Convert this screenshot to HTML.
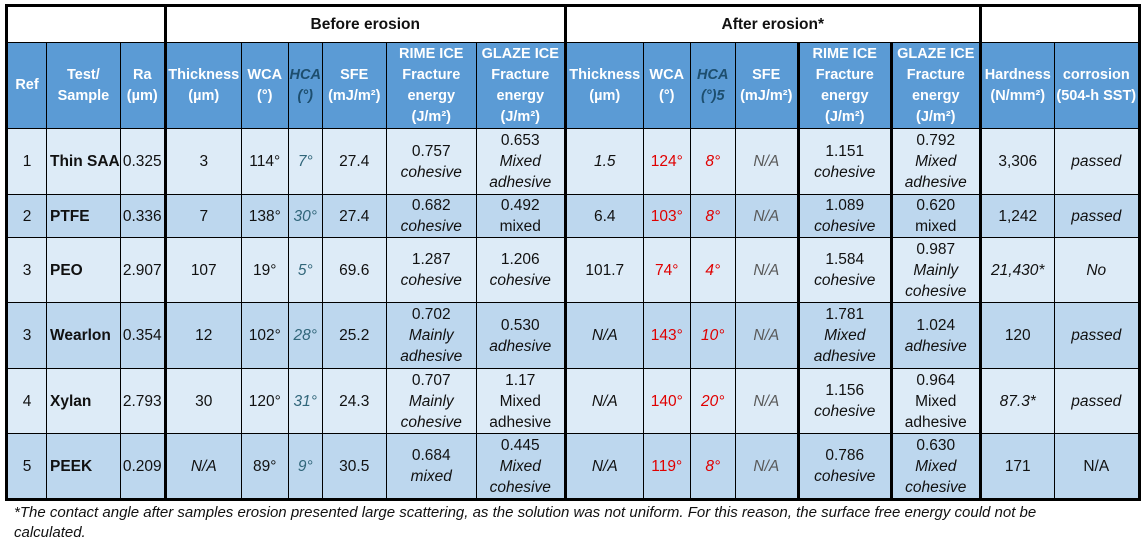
<!DOCTYPE html>
<html><head><meta charset="utf-8"><style>
body{margin:0;background:#fff;width:1145px;height:542px;overflow:hidden;font-family:"Liberation Sans",sans-serif;}
table{position:absolute;left:5px;top:4px;border-collapse:collapse;table-layout:fixed;border:3px solid #000;}
td{border:1px solid #000;text-align:center;vertical-align:middle;padding:0;font-size:15.5px;line-height:21px;color:#111;overflow:hidden;white-space:nowrap;}
tr.h1 td{background:#fff;font-weight:bold;font-size:15.5px;border-bottom:1px solid #000;}
tr.h2 td{background:#5b9bd5;color:#fff;font-weight:bold;font-size:14.5px;line-height:21px;}
tr.l td{background:#ddebf7;}
tr.d td{background:#bdd7ee;}
.tk{border-right:3px solid #000 !important;}
i{font-style:italic;}
tr.h2 td.hca{color:#1d4e6e;font-style:italic;}
.hv{color:#31667a !important;font-style:italic;}
.r{color:#e00000 !important;}
.g{color:#595959 !important;font-style:italic;}
.b{font-weight:bold;text-align:left;padding-left:3px;}
.foot{position:absolute;left:14px;top:503px;font-style:italic;font-size:15px;line-height:20px;color:#111;}
</style></head><body>
<table>
<colgroup><col style="width:40px"><col style="width:70px"><col style="width:45px"><col style="width:76px"><col style="width:47px"><col style="width:34px"><col style="width:64px"><col style="width:90px"><col style="width:89px"><col style="width:78px"><col style="width:47px"><col style="width:45px"><col style="width:63px"><col style="width:93px"><col style="width:89px"><col style="width:74px"><col style="width:85px"></colgroup>
<tr class="h1" style="height:37px"><td colspan="3" class="tk"></td><td colspan="6" class="tk">Before erosion</td><td colspan="6" class="tk">After erosion*</td><td colspan="2"></td></tr>
<tr class="h2" style="height:86px"><td>Ref</td><td>Test/<br>Sample</td><td class="tk">Ra<br>(µm)</td><td>Thickness<br>(µm)</td><td>WCA<br>(°)</td><td class="hca">HCA<br>(°)</td><td>SFE<br>(mJ/m²)</td><td>RIME ICE<br>Fracture<br>energy<br>(J/m²)</td><td class="tk">GLAZE ICE<br>Fracture<br>energy<br>(J/m²)</td><td>Thickness<br>(µm)</td><td>WCA<br>(°)</td><td class="hca">HCA<br>(°)5</td><td class="tk">SFE<br>(mJ/m²)</td><td class="tk">RIME ICE<br>Fracture<br>energy<br>(J/m²)</td><td class="tk">GLAZE ICE<br>Fracture<br>energy<br>(J/m²)</td><td>Hardness<br>(N/mm²)</td><td>corrosion<br>(504-h SST)</td></tr>
<tr class="l" style="height:66px"><td>1</td><td class="b">Thin SAA</td><td class="tk">0.325</td><td>3</td><td>114°</td><td class="hv">7°</td><td>27.4</td><td>0.757<br><i>cohesive</i></td><td class="tk">0.653<br><i>Mixed<br>adhesive</i></td><td><i>1.5</i></td><td class="r">124°</td><td class="r"><i>8°</i></td><td class="g tk">N/A</td><td class="tk">1.151<br><i>cohesive</i></td><td class="tk">0.792<br><i>Mixed<br>adhesive</i></td><td>3,306</td><td><i>passed</i></td></tr>
<tr class="d" style="height:43px"><td>2</td><td class="b">PTFE</td><td class="tk">0.336</td><td>7</td><td>138°</td><td class="hv">30°</td><td>27.4</td><td>0.682<br><i>cohesive</i></td><td class="tk">0.492<br>mixed</td><td>6.4</td><td class="r">103°</td><td class="r"><i>8°</i></td><td class="g tk">N/A</td><td class="tk">1.089<br><i>cohesive</i></td><td class="tk">0.620<br>mixed</td><td>1,242</td><td><i>passed</i></td></tr>
<tr class="l" style="height:65px"><td>3</td><td class="b">PEO</td><td class="tk">2.907</td><td>107</td><td>19°</td><td class="hv">5°</td><td>69.6</td><td>1.287<br><i>cohesive</i></td><td class="tk">1.206<br><i>cohesive</i></td><td>101.7</td><td class="r">74°</td><td class="r"><i>4°</i></td><td class="g tk">N/A</td><td class="tk">1.584<br><i>cohesive</i></td><td class="tk">0.987<br><i>Mainly<br>cohesive</i></td><td><i>21,430*</i></td><td><i>No</i></td></tr>
<tr class="d" style="height:66px"><td>3</td><td class="b">Wearlon</td><td class="tk">0.354</td><td>12</td><td>102°</td><td class="hv">28°</td><td>25.2</td><td>0.702<br><i>Mainly<br>adhesive</i></td><td class="tk">0.530<br><i>adhesive</i></td><td><i>N/A</i></td><td class="r">143°</td><td class="r"><i>10°</i></td><td class="g tk">N/A</td><td class="tk">1.781<br><i>Mixed<br>adhesive</i></td><td class="tk">1.024<br><i>adhesive</i></td><td>120</td><td><i>passed</i></td></tr>
<tr class="l" style="height:65px"><td>4</td><td class="b">Xylan</td><td class="tk">2.793</td><td>30</td><td>120°</td><td class="hv">31°</td><td>24.3</td><td>0.707<br><i>Mainly<br>cohesive</i></td><td class="tk">1.17<br>Mixed<br>adhesive</td><td><i>N/A</i></td><td class="r">140°</td><td class="r"><i>20°</i></td><td class="g tk">N/A</td><td class="tk">1.156<br><i>cohesive</i></td><td class="tk">0.964<br>Mixed<br>adhesive</td><td><i>87.3*</i></td><td><i>passed</i></td></tr>
<tr class="d" style="height:66px"><td>5</td><td class="b">PEEK</td><td class="tk">0.209</td><td><i>N/A</i></td><td>89°</td><td class="hv">9°</td><td>30.5</td><td>0.684<br><i>mixed</i></td><td class="tk">0.445<br><i>Mixed<br>cohesive</i></td><td><i>N/A</i></td><td class="r">119°</td><td class="r"><i>8°</i></td><td class="g tk">N/A</td><td class="tk">0.786<br><i>cohesive</i></td><td class="tk">0.630<br><i>Mixed<br>cohesive</i></td><td>171</td><td>N/A</td></tr>
</table>
<div class="foot">*The contact angle after samples erosion presented large scattering, as the solution was not uniform. For this reason, the surface free energy could not be<br>calculated.</div>
</body></html>
